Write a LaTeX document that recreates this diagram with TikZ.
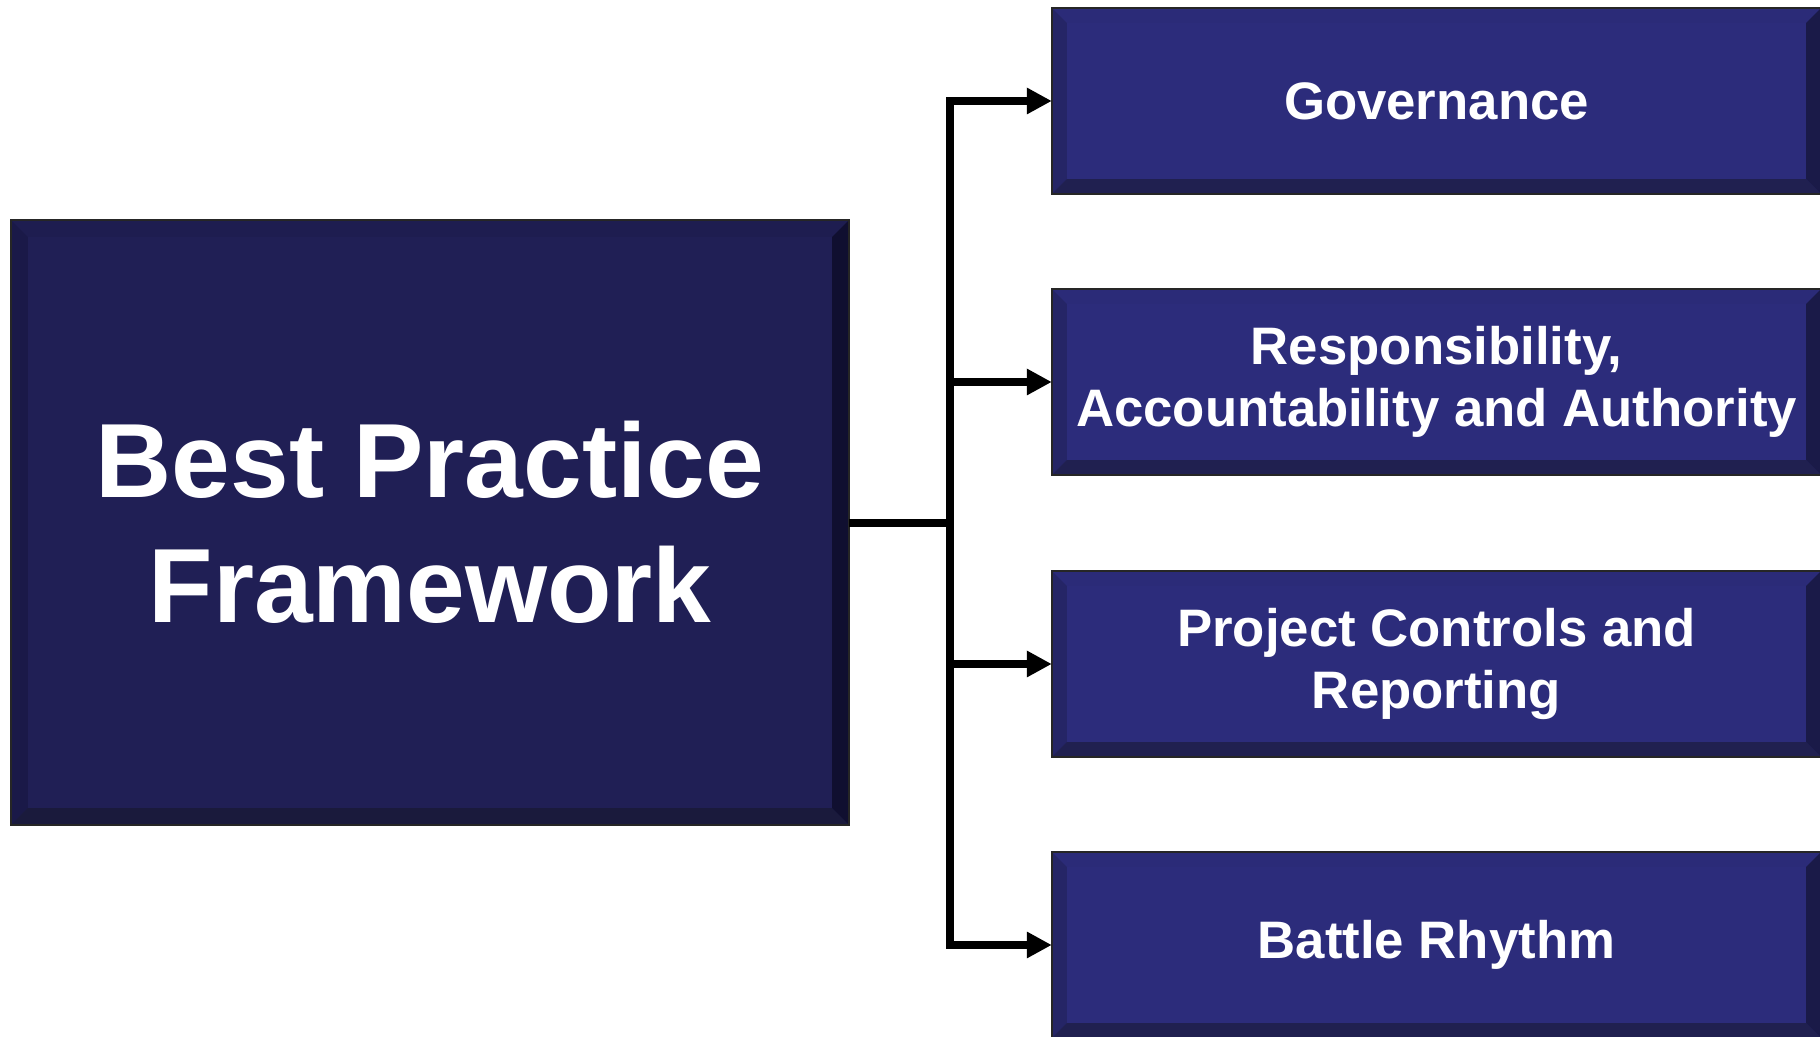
\documentclass[tikz,border=0pt]{standalone}
\usepackage{fontspec}
\setmainfont{Liberation Sans}
\usepackage{tikz}
\usetikzlibrary{positioning, calc, arrows.meta}

\definecolor{mainface}{RGB}{32,31,85}
\definecolor{maintop}{RGB}{30,29,80}
\definecolor{mainleft}{RGB}{26,25,72}
\definecolor{mainbottom}{RGB}{26,26,60}
\definecolor{mainright}{RGB}{16,15,48}
\definecolor{subface}{RGB}{44,44,123}
\definecolor{subtop}{RGB}{43,43,120}
\definecolor{subleft}{RGB}{37,37,102}
\definecolor{subbottom}{RGB}{32,32,80}
\definecolor{subright}{RGB}{26,26,72}

\tikzset{mainbox/.style = {rectangle, fill=mainface, text=white, align=center, outer sep=0pt,
                           minimum width=8.38cm, minimum height=6.05cm,
                           font=\fontsize{30}{35.6}\selectfont\bfseries},
         subbox/.style  = {rectangle, fill=subface, text=white, align=center, outer sep=0pt,
                           minimum width=7.69cm, minimum height=1.86cm,
                           font=\fontsize{15}{17.5}\selectfont\bfseries},
         link/.style    = {line width=0.08cm, -{Triangle[length=0.25cm,width=0.25cm]}}}

% bevel: node, width, top, left, bottom, right
\newcommand{\bevel}[6]{
    \fill[#3] (#1.north west) -- (#1.north east) -- ($(#1.north east)+(-#2,#2)$) -- ($(#1.north west)+(#2,#2)$) -- cycle;
    \fill[#4] (#1.north west) -- ($(#1.north west)+(#2,#2)$) -- ($(#1.south west)+(#2,-#2)$) -- (#1.south west) -- cycle;
    \fill[#5] (#1.south west) -- ($(#1.south west)+(#2,-#2)$) -- ($(#1.south east)+(-#2,-#2)$) -- (#1.south east) -- cycle;
    \fill[#6] (#1.south east) -- ($(#1.south east)+(-#2,-#2)$) -- ($(#1.north east)+(-#2,#2)$) -- (#1.north east) -- cycle;
    \draw[line width=0.5pt, black!85] (#1.north west) rectangle (#1.south east);
}

\begin{document}
\begin{tikzpicture}[x=0.01cm, y=-0.01cm]
    \useasboundingbox (0,0) rectangle (1820,1037);

    \node[mainbox] (frame) at (430, 522.5) {Best Practice\\Framework};

    \node[subbox] (gov) at (1436.5,  101) {Governance};
    \node[subbox] (raa) at (1436.5,  382) {Responsibility,\\Accountability and Authority};
    \node[subbox] (pcr) at (1436.5,  664) {Project Controls and\\Reporting};
    \node[subbox] (bat) at (1436.5,  945) {Battle Rhythm};

    \bevel{frame}{17}{maintop}{mainleft}{mainbottom}{mainright}
    \bevel{gov}{15}{subtop}{subleft}{subbottom}{subright}
    \bevel{raa}{15}{subtop}{subleft}{subbottom}{subright}
    \bevel{pcr}{15}{subtop}{subleft}{subbottom}{subright}
    \bevel{bat}{15}{subtop}{subleft}{subbottom}{subright}

    \coordinate (hub) at (950, 523);

    \draw[line width=0.08cm] (frame.east |- hub) -- (hub);
    \draw[link] (hub) |- (gov.west);
    \draw[link] (hub) |- (raa.west);
    \draw[link] (hub) |- (pcr.west);
    \draw[link] (hub) |- (bat.west);
\end{tikzpicture}
\end{document}
